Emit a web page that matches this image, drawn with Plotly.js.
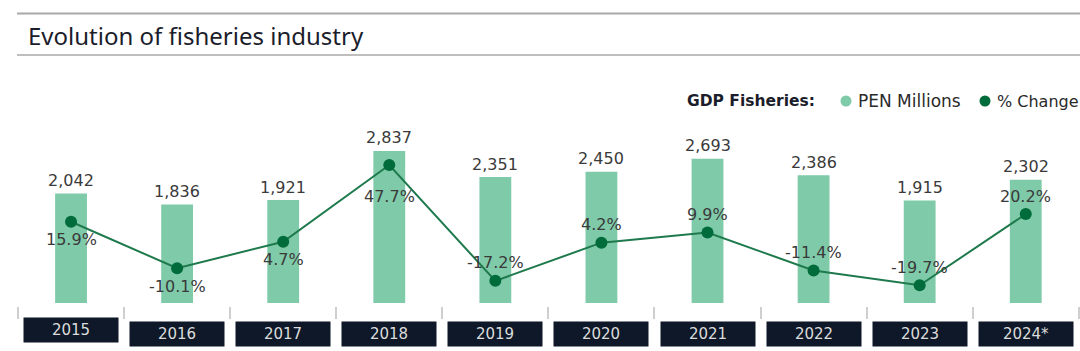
<!DOCTYPE html>
<html>
<head>
<meta charset="utf-8">
<script src="https://cdn.plot.ly/plotly-3.0.1.min.js"></script>
<style>
  html, body { margin: 0; padding: 0; background: #ffffff; }
  #chart { width: 1080px; height: 351px; }
</style>
</head>
<body>
<div id="chart"></div>
<script>
// ---- data ----
const years = ['2015', '2016', '2017', '2018', '2019', '2020', '2021', '2022', '2023', '2024*'];
const gdpPenMillions = [2042, 1836, 1921, 2837, 2351, 2450, 2693, 2386, 1915, 2302];
const pctChange = [15.9, -10.1, 4.7, 47.7, -17.2, 4.2, 9.9, -11.4, -19.7, 20.2];
const pctLabelSide = ['below', 'below', 'below', 'below', 'above', 'above', 'above', 'above', 'above', 'above'];
const chartTitle = 'Evolution of fisheries industry';
const legendTitle = 'GDP Fisheries:';
const seriesNames = ['PEN Millions', '% Change'];

// ---- styles ----
const BAR_COLOR = '#7fcaa9';
const LINE_COLOR = '#006b3b';
const LABEL_COLOR = '#3a3a3a';
const BOX_COLOR = '#0e1828';
const FONT = 'DejaVu Sans, Verdana, sans-serif';

const W = 1080, H = 351;
const M = { l: 18, r: 1, t: 60, b: 30 };
const paperW = W - M.l - M.r;
const paperH = H - M.t - M.b;
const py = (pix) => (H - M.b - pix) / paperH; // pixel y -> paper y
const px = (pix) => (pix - M.l) / paperW;     // pixel x -> paper x

const xIdx = years.map((_, i) => i);

const traces = [
  {
    type: 'bar', x: xIdx, y: gdpPenMillions, width: 0.30,
    marker: { color: BAR_COLOR }, showlegend: false, hoverinfo: 'skip'
  },
  {
    type: 'scatter', mode: 'lines+markers', x: xIdx, y: pctChange, yaxis: 'y2',
    line: { color: '#1e7a4c', width: 2 },
    marker: { color: LINE_COLOR, size: 12 }, showlegend: false, hoverinfo: 'skip', cliponaxis: false
  }
];

const annotations = [];
gdpPenMillions.forEach((v, i) => {
  annotations.push({
    x: i, y: v, xref: 'x', yref: 'y', text: v.toLocaleString('en-US'),
    showarrow: false, yanchor: 'middle', yshift: 13,
    font: { family: FONT, size: 16, color: LABEL_COLOR }
  });
});
// labels that sit between two steep line segments are pushed further away
const farLabel = pctChange.map((v, i) => {
  const prev = i > 0 ? Math.abs(v - pctChange[i - 1]) : 0;
  const next = i < pctChange.length - 1 ? Math.abs(v - pctChange[i + 1]) : 0;
  return prev > 40 && next > 40;
});
pctChange.forEach((v, i) => {
  const off = farLabel[i] ? 32 : 18;
  annotations.push({
    x: i, y: v, xref: 'x', yref: 'y2', text: v.toFixed(1) + '%',
    showarrow: false, yanchor: 'middle', yshift: pctLabelSide[i] === 'below' ? -off : off,
    font: { family: FONT, size: 16, color: LABEL_COLOR }
  });
});
years.forEach((yr, i) => {
  annotations.push({
    x: i, xref: 'x', y: py(i === 0 ? 330 : 333.5), yref: 'paper', text: yr,
    showarrow: false, yanchor: 'middle', width: 94, height: 24, borderpad: 0,
    bgcolor: BOX_COLOR, font: { family: FONT, size: 15, color: '#dcdcdc' }
  });
});
// legend (custom, drawn as text + round swatches)
annotations.push(
  { xref: 'paper', yref: 'paper', x: px(685), y: py(101), xanchor: 'left', yanchor: 'middle', showarrow: false,
    text: '<b>' + legendTitle + '</b>', font: { family: FONT, size: 15.5, color: '#1b1d2b' } },
  { xref: 'paper', yref: 'paper', x: px(856), y: py(101), xanchor: 'left', yanchor: 'middle', showarrow: false,
    text: seriesNames[0], font: { family: FONT, size: 17, color: '#2a2a2a' } },
  { xref: 'paper', yref: 'paper', x: px(995), y: py(101), xanchor: 'left', yanchor: 'middle', showarrow: false,
    text: seriesNames[1], font: { family: FONT, size: 16, color: '#2a2a2a' } }
);

const swatch = (cx, color) => ({
  type: 'circle', xref: 'paper', yref: 'paper', xsizemode: 'pixel', ysizemode: 'pixel',
  xanchor: px(cx), yanchor: py(101), x0: -5.5, x1: 5.5, y0: -5.5, y1: 5.5,
  fillcolor: color, line: { width: 0 }
});

const layout = {
  width: W, height: H,
  margin: M,
  paper_bgcolor: '#ffffff', plot_bgcolor: '#ffffff',
  title: {
    text: chartTitle, xref: 'container', yref: 'container',
    x: 28 / W, xanchor: 'left', y: 1 - 37 / H, yanchor: 'middle',
    font: { family: 'Liberation Sans Narrow, Noto Sans, sans-serif', size: 24, color: '#1b1d2b' }
  },
  xaxis: {
    range: [-0.5, 9.502], showticklabels: false,
    tickmode: 'linear', tick0: -0.5, dtick: 1,
    ticks: 'outside', ticklen: 12, tickwidth: 2, tickcolor: '#cfcfcf',
    showgrid: false, zeroline: false, showline: false, anchor: 'free', position: py(306), fixedrange: true
  },
  yaxis: {
    domain: [py(303), 1], range: [0, 4535], visible: false, fixedrange: true
  },
  yaxis2: {
    overlaying: 'y', range: [-29.6, 106.5], visible: false, fixedrange: true
  },
  showlegend: false,
  shapes: [
    { type: 'line', xref: 'paper', yref: 'paper', x0: px(17), x1: px(1080), y0: py(13.5), y1: py(13.5), line: { color: '#a8a8a8', width: 2 } },
    { type: 'line', xref: 'paper', yref: 'paper', x0: px(17), x1: px(1080), y0: py(55), y1: py(55), line: { color: '#a8a8a8', width: 1.5 } },
    swatch(846, BAR_COLOR),
    swatch(985, LINE_COLOR)
  ],
  annotations: annotations
};

Plotly.newPlot('chart', traces, layout, { displayModeBar: false, staticPlot: true });
</script>
</body>
</html>
